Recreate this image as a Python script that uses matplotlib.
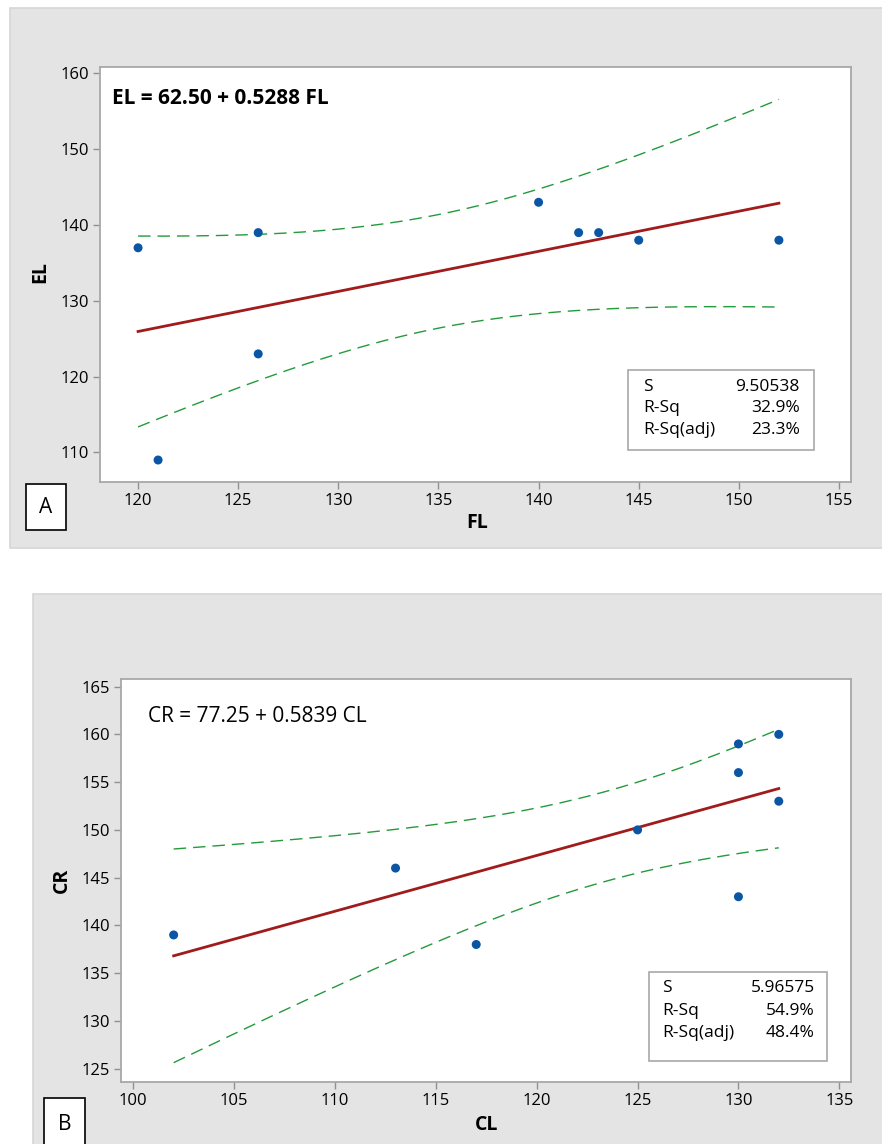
import numpy as np
import matplotlib
matplotlib.use("Agg")
import matplotlib.pyplot as plt
from matplotlib.patches import Rectangle

plt.rcParams['font.family'] = ['Open Sans', 'DejaVu Sans']
plt.rcParams['font.stretch'] = 'normal'

# panel A: EL against FL
fl = np.array([120, 121, 126, 126, 140, 142, 143, 145, 152])
el = np.array([137, 109, 139, 123, 143, 139, 139, 138, 138])

# panel B: CR against CL
cl = np.array([102, 113, 117, 125, 130, 130, 130, 132, 132])
cr = np.array([139, 146, 138, 150, 159, 156, 143, 160, 153])

xticks_a = [120, 125, 130, 135, 140, 145, 150, 155]
yticks_a = [110, 120, 130, 140, 150, 160]
xticks_b = [100, 105, 110, 115, 120, 125, 130, 135]
yticks_b = [125, 130, 135, 140, 145, 150, 155, 160, 165]

T975 = 2.3646  # t(0.975) with 7 degrees of freedom

W, H = 882, 1144
fig = plt.figure(figsize=(W / 100, H / 100), dpi=100)

GREY = '#e4e4e4'
FRAME = '#a8a8a8'
BLUE = '#0a56a5'
RED = '#a01c1c'
GREEN = '#239a3b'


def rect(x0, y0, x1, y1):
    # pixel box (origin top left) -> figure fraction [l, b, w, h]
    return [x0 / W, 1 - y1 / H, (x1 - x0) / W, (y1 - y0) / H]


def fx(x):
    return x / W


def fy(y):
    return 1 - y / H


def regress(x, y):
    n = len(x)
    b1, b0 = np.polyfit(x, y, 1)
    resid = y - (b0 + b1 * x)
    sse = np.sum(resid ** 2)
    s = np.sqrt(sse / (n - 2))
    r2 = 1 - sse / np.sum((y - y.mean()) ** 2)
    r2adj = 1 - (1 - r2) * (n - 1) / (n - 2)
    return b0, b1, s, r2, r2adj


def panel(x, y, xname, yname, letter, bg, axbox, xlim, ylim, xt, yt,
          eq_pos, eq_weight, statbox, xlab_pos, ylab_pos, letterbox):
    # grey panel background
    l, b, w, h = rect(*bg)
    fig.add_artist(Rectangle((l, b), w, h, transform=fig.transFigure,
                             facecolor=GREY, edgecolor='#d6d6d6', lw=1.2, zorder=-5))

    ax = fig.add_axes(rect(*axbox))
    ax.set_facecolor('white')
    for sp in ax.spines.values():
        sp.set_color(FRAME)
        sp.set_linewidth(1.3)
    ax.set_xlim(*xlim)
    ax.set_ylim(*ylim)
    ax.set_xticks(xt)
    ax.set_yticks(yt)
    ax.tick_params(direction='out', length=5, width=1, color='#909090',
                   labelsize=12, labelcolor='black', pad=3)

    b0, b1, s, r2, r2adj = regress(x, y)
    n = len(x)
    xs = np.linspace(x.min(), x.max(), 200)
    fitv = b0 + b1 * xs
    half = T975 * s * np.sqrt(1 / n + (xs - x.mean()) ** 2 / np.sum((x - x.mean()) ** 2))

    ax.plot(xs, fitv + half, color=GREEN, lw=1.0, ls=(0, (9, 5)), zorder=2)
    ax.plot(xs, fitv - half, color=GREEN, lw=1.0, ls=(0, (9, 5)), zorder=2)
    ax.plot(xs, fitv, color=RED, lw=2.0, zorder=3)
    ax.scatter(x, y, s=42, color=BLUE, edgecolors='none', zorder=4)

    fig.text(fx(eq_pos[0]), fy(eq_pos[1]),
             f'{yname} = {b0:.2f} + {b1:.4f} {xname}',
             fontsize=15, fontweight=eq_weight, fontstretch='normal',
             va='center', ha='left')

    # stats box
    sx0, sy0, sx1, sy1, tx, vx, rows = statbox
    l, b, w, h = rect(sx0, sy0, sx1, sy1)
    fig.add_artist(Rectangle((l, b), w, h, transform=fig.transFigure,
                             facecolor='white', edgecolor=FRAME, lw=1.2, zorder=5))
    labels = ['S', 'R-Sq', 'R-Sq(adj)']
    vals = [f'{s:.5f}', f'{r2 * 100:.1f}%', f'{r2adj * 100:.1f}%']
    for lab, val, ry in zip(labels, vals, rows):
        fig.text(fx(tx), fy(ry), lab, fontsize=12.5, va='center', ha='left', zorder=6)
        fig.text(fx(vx), fy(ry), val, fontsize=12.5, va='center', ha='right', zorder=6)

    fig.text(fx(xlab_pos[0]), fy(xlab_pos[1]), xname, fontsize=14,
             fontweight='bold', fontstretch='normal', ha='center', va='center')
    fig.text(fx(ylab_pos[0]), fy(ylab_pos[1]), yname, fontsize=14,
             fontweight='bold', fontstretch='normal', ha='center', va='center',
             rotation=90)

    # panel letter
    l, b, w, h = rect(*letterbox)
    fig.add_artist(Rectangle((l, b), w, h, transform=fig.transFigure,
                             facecolor='white', edgecolor='black', lw=1.2, zorder=5))
    fig.text(l + w / 2, b + h / 2, letter, fontsize=15, ha='center', va='center', zorder=6)
    return ax


panel(fl, el, 'FL', 'EL', 'A',
      bg=(10, 8, 884, 548), axbox=(100, 67, 851, 482),
      xlim=(118.1, 155.6), ylim=(106.1, 160.85), xt=xticks_a, yt=yticks_a,
      eq_pos=(112, 99), eq_weight='bold',
      statbox=(628, 370, 814, 450, 643, 800, (387, 408, 430)),
      xlab_pos=(477, 523), ylab_pos=(40, 272), letterbox=(26, 484, 66, 530))

panel(cl, cr, 'CL', 'CR', 'B',
      bg=(33, 594, 884, 1146), axbox=(121, 679, 851, 1082),
      xlim=(99.39, 135.58), ylim=(123.6, 165.8), xt=xticks_b, yt=yticks_b,
      eq_pos=(148, 717), eq_weight='normal',
      statbox=(649, 972, 827, 1061, 662, 815, (988, 1011, 1033)),
      xlab_pos=(487, 1125), ylab_pos=(62, 880), letterbox=(44, 1098, 85, 1150))

fig.savefig('out.png', dpi=100, facecolor='white')
